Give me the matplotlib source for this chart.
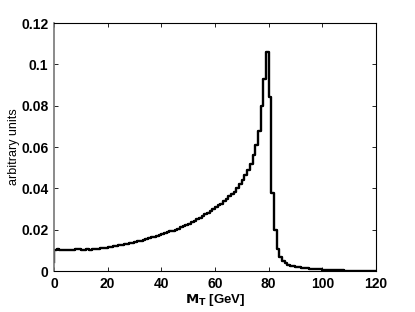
import numpy as np
import matplotlib
matplotlib.use('Agg')
import matplotlib.pyplot as plt

# histogram of transverse mass, 1 GeV bins from 0 to 120
mt_edges = np.arange(0, 121, 1)
start_value = 0.0045
counts = [
    0.0104, 0.0106, 0.0103, 0.0101, 0.0102, 0.0103, 0.0102, 0.0104, 0.0105, 0.0107,
    0.0104, 0.0103, 0.0105, 0.0104, 0.0106, 0.0108, 0.0107, 0.0110, 0.0112, 0.0114,
    0.0117, 0.0118, 0.0121, 0.0122, 0.0125, 0.0127, 0.0129, 0.0131, 0.0135, 0.0137,
    0.0142, 0.0145, 0.0147, 0.0152, 0.0155, 0.0158, 0.0163, 0.0166, 0.0170, 0.0175,
    0.0179, 0.0183, 0.0187, 0.0192, 0.0196, 0.0201, 0.0206, 0.0212, 0.0218, 0.0224,
    0.0229, 0.0236, 0.0242, 0.0250, 0.0258, 0.0266, 0.0274, 0.0282, 0.0291, 0.0299,
    0.0308, 0.0318, 0.0327, 0.0337, 0.0349, 0.0362, 0.0371, 0.0384, 0.0402, 0.0422,
    0.0442, 0.0465, 0.0490, 0.0520, 0.0560, 0.0610, 0.0680, 0.0800, 0.0930, 0.1058,
    0.0840, 0.0380, 0.0200, 0.0105, 0.0068, 0.0049, 0.0039, 0.0032, 0.0027, 0.0023,
    0.0020, 0.0018, 0.0016, 0.0014, 0.0013, 0.0012, 0.0011, 0.0010, 0.0009, 0.0008,
    0.0007, 0.0006, 0.0006, 0.0005, 0.0005, 0.0004, 0.0004, 0.0004, 0.0003, 0.0003,
    0.0003, 0.0002, 0.0002, 0.0002, 0.0002, 0.0001, 0.0001, 0.0001, 0.0001, 0.0001,
]
x_ticks = [0, 20, 40, 60, 80, 100, 120]
y_ticks = [0, 0.02, 0.04, 0.06, 0.08, 0.1, 0.12]

plt.rcParams['font.family'] = ['Liberation Sans', 'DejaVu Sans']

fig = plt.figure(figsize=(4.15, 3.12), dpi=100)
ax = fig.add_axes([0.130, 0.131, 0.776, 0.795])

# stairs line, starting from a short vertical at x=0
xs = np.r_[mt_edges[0], mt_edges]
ys = np.r_[start_value, counts, counts[-1]]
ax.plot(xs, ys, drawstyle='steps-post', color='black', linewidth=1.7)

ax.set_xlim(0, 120)
ax.set_ylim(0, 0.12)
ax.set_xticks(x_ticks)
ax.set_yticks(y_ticks)
ax.set_yticklabels(['%g' % v for v in y_ticks])
ax.tick_params(direction='in', top=True, right=True, length=3, width=0.6,
               labelsize=10, pad=4)
for lab in ax.get_xticklabels() + ax.get_yticklabels():
    lab.set_fontweight('bold')

for side in ['top', 'right', 'bottom']:
    ax.spines[side].set_linewidth(0.8)
ax.spines['left'].set_color('#777777')
ax.spines['left'].set_linewidth(1.2)

ax.set_xlabel(r'$\mathbf{M_T}$ [GeV]', fontsize=9.5, fontweight='bold', labelpad=1)
ax.set_ylabel('arbitrary units', fontsize=9, labelpad=1)

fig.savefig('out.png', dpi=100)
